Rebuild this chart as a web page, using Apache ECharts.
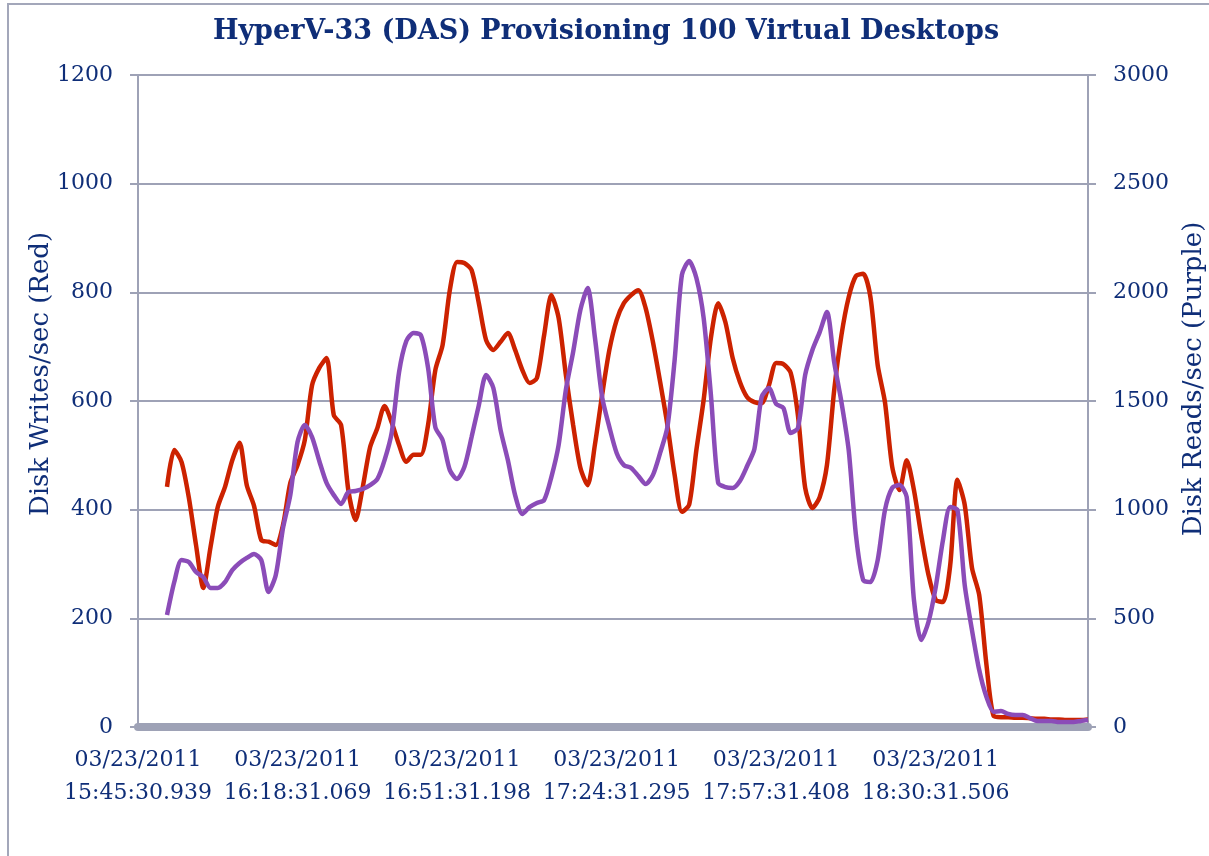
<!DOCTYPE html>
<html>
<head>
<meta charset="utf-8">
<script src="https://cdn.jsdelivr.net/npm/echarts@6/dist/echarts.min.js"></script>
<style>
html,body{margin:0;padding:0;background:#fff;}
#chart{width:1209px;height:856px;}
</style>
</head>
<body>
<div id="chart"></div>
<script>
const chartTitle = 'HyperV-33 (DAS) Provisioning 100 Virtual Desktops';
const leftAxisName = 'Disk Writes/sec (Red)';
const rightAxisName = 'Disk Reads/sec (Purple)';
const tickLabels = [
  '03/23/2011\n15:45:30.939',
  '03/23/2011\n16:18:31.069',
  '03/23/2011\n16:51:31.198',
  '03/23/2011\n17:24:31.295',
  '03/23/2011\n17:57:31.408',
  '03/23/2011\n18:30:31.506'
];
const samplesPerLabel = 22;
const sampleCount = 132;
const categories = Array.from({length: sampleCount}, (_, i) => String(i));

const diskWrites = [
  null, null, null, null,
  442, 510, 488, 423, 335, 256, 331, 405, 442, 491, 523, 445, 407, 344, 341, 335,
  372, 449, 482, 528, 629, 661, 679, 574, 556, 436, 381, 442, 515, 550, 591, 560,
  519, 488, 501, 501, 556, 657, 703, 804, 856, 854, 841, 780, 712, 694, 709, 725,
  694, 657, 633, 642, 721, 795, 753, 648, 556, 477, 445, 519, 611, 694, 749, 780,
  795, 804, 771, 709, 635, 556, 464, 396, 409, 510, 602, 716, 780, 745, 679, 635,
  607, 598, 596, 629, 670, 668, 652, 574, 440, 403, 423, 482, 620, 721, 791, 830,
  834, 791, 666, 598, 479, 436, 491, 436, 353, 280, 234, 230, 298, 455, 409, 293,
  243, 114, 20, 18, 18, 17, 17, 16, 15, 15, 14, 14, 13, 13, 13, 14
];
const diskReads = [
  null, null, null, null,
  515, 667, 768, 759, 713, 690, 640, 640, 667, 722, 755, 778, 796, 768, 621, 699,
  916, 1067, 1311, 1390, 1334, 1224, 1123, 1067, 1026, 1081, 1086, 1095, 1113, 1141, 1228, 1357,
  1633, 1776, 1813, 1803, 1652, 1380, 1320, 1182, 1141, 1196, 1334, 1481, 1620, 1560, 1366, 1228,
  1067, 980, 1012, 1031, 1044, 1150, 1297, 1551, 1725, 1919, 2020, 1794, 1518, 1380, 1261, 1205,
  1192, 1155, 1118, 1159, 1261, 1380, 1689, 2080, 2144, 2066, 1882, 1528, 1123, 1104, 1100, 1132,
  1201, 1279, 1518, 1560, 1486, 1468, 1353, 1376, 1620, 1735, 1817, 1909, 1679, 1495, 1274, 883,
  676, 667, 768, 998, 1100, 1113, 1058, 584, 400, 483, 644, 860, 1012, 998, 653, 446,
  262, 138, 69, 74, 60, 55, 55, 41, 28, 28, 28, 23, 23, 23, 28, 32
];

const navy = '#0F2E78';
const gridGray = '#9EA2B6';
const font = "'DejaVu Serif', serif";

const chart = echarts.init(document.getElementById('chart'), null, {renderer: 'canvas'});
chart.setOption({
  animation: false,
  backgroundColor: '#ffffff',
  title: {
    text: chartTitle,
    left: 601,
    top: 13,
    textAlign: 'center',
    textStyle: {fontFamily: font, fontWeight: 'bold', fontSize: 27, color: navy}
  },
  graphic: [
    {type: 'rect', shape: {x: 8, y: 4, width: 1400, height: 1000}, style: {fill: 'none', stroke: '#A3A7BA', lineWidth: 2}, silent: true, z: 0},
    {type: 'text', x: 41, y: 374, rotation: Math.PI / 2,
     style: {text: leftAxisName, font: "26px 'DejaVu Serif'", fill: navy, textAlign: 'center', textVerticalAlign: 'middle'}},
    {type: 'text', x: 1194, y: 379, rotation: Math.PI / 2,
     style: {text: rightAxisName, font: "26px 'DejaVu Serif'", fill: navy, textAlign: 'center', textVerticalAlign: 'middle'}}
  ],
  grid: {left: 138, right: 121, top: 75, bottom: 129, containLabel: false},
  xAxis: {
    type: 'category',
    data: categories,
    boundaryGap: false,
    offset: 4,
    axisLine: {lineStyle: {color: gridGray, width: 8}},
    axisTick: {show: false},
    splitLine: {show: false},
    axisLabel: {
      interval: samplesPerLabel - 1,
      margin: 13,
      fontFamily: font,
      fontSize: 22,
      lineHeight: 33,
      color: navy,
      formatter: (v, idx) => tickLabels[Math.round(idx / samplesPerLabel)] || ''
    }
  },
  yAxis: [
    {
      type: 'value', min: 0, max: 1200, interval: 200, position: 'left',
      axisLine: {show: true, lineStyle: {color: gridGray, width: 2}},
      axisTick: {show: true, length: 8, lineStyle: {color: gridGray, width: 2}},
      splitLine: {show: true, lineStyle: {color: gridGray, width: 2}},
      axisLabel: {margin: 25, fontFamily: font, fontSize: 22, color: navy, formatter: v => String(v)}
    },
    {
      type: 'value', min: 0, max: 3000, interval: 500, position: 'right',
      axisLine: {show: true, lineStyle: {color: gridGray, width: 2}},
      axisTick: {show: true, length: 8, lineStyle: {color: gridGray, width: 2}},
      splitLine: {show: false},
      axisLabel: {margin: 25, fontFamily: font, fontSize: 22, color: navy, formatter: v => String(v)}
    }
  ],
  series: [
    {
      name: leftAxisName, type: 'line', yAxisIndex: 0, data: diskWrites,
      showSymbol: false, smooth: 0.25, connectNulls: false,
      lineStyle: {color: '#CC2200', width: 4.5}, itemStyle: {color: '#CC2200'}, z: 3
    },
    {
      name: rightAxisName, type: 'line', yAxisIndex: 1, data: diskReads,
      showSymbol: false, smooth: 0.25, connectNulls: false,
      lineStyle: {color: '#8B4CB8', width: 4.5}, itemStyle: {color: '#8B4CB8'}, z: 4
    }
  ]
});
</script>
</body>
</html>
